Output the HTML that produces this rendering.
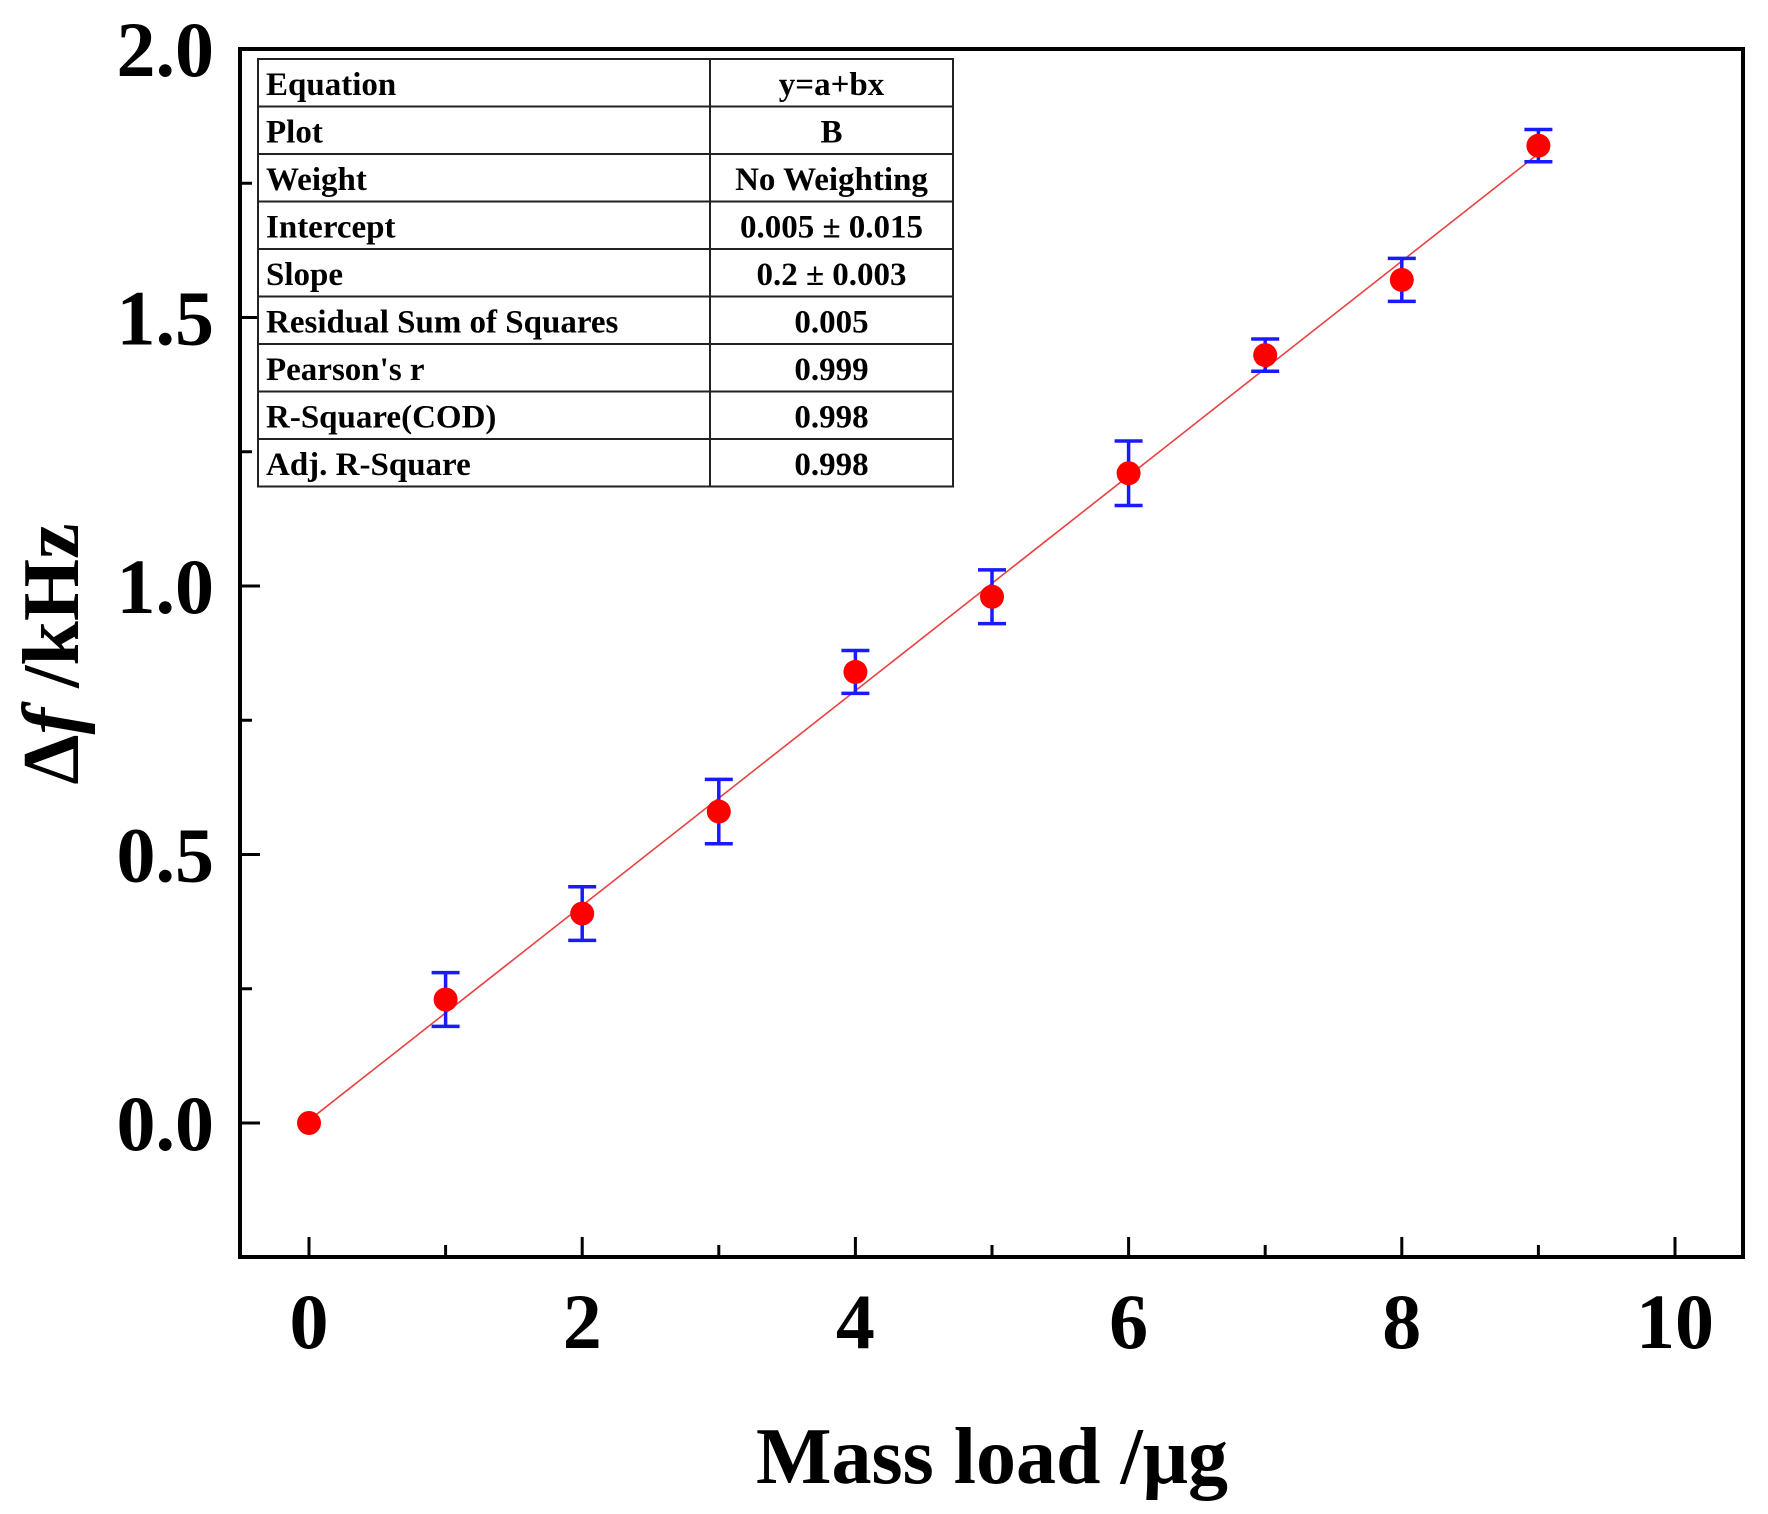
<!DOCTYPE html>
<html><head><meta charset="utf-8"><style>
html,body{margin:0;padding:0;background:#fff;}
svg{display:block;font-family:"Liberation Serif",serif;font-weight:bold;}
</style></head><body>
<svg id="c" width="1768" height="1514" viewBox="0 0 1768 1514" xmlns="http://www.w3.org/2000/svg"></svg>
<script>
const xValues=[0,1,2,3,4,5,6,7,8,9];
const yValues=[0,0.23,0.39,0.58,0.84,0.98,1.21,1.43,1.57,1.82];
const yErrors=[0,0.05,0.05,0.06,0.04,0.05,0.06,0.03,0.04,0.03];
const fitIntercept=0.005, fitSlope=0.2;
const xTicks=[0,2,4,6,8,10];
const yTicks=[0,0.5,1.0,1.5,2.0];
const tableRows=[["Equation","y=a+bx"],["Plot","B"],["Weight","No Weighting"],["Intercept","0.005 ± 0.015"],["Slope","0.2 ± 0.003"],["Residual Sum of Squares","0.005"],["Pearson's r","0.999"],["R-Square(COD)","0.998"],["Adj. R-Square","0.998"]];
const L=240,R=1743,T=49,B=1257;
const X=v=>309+v*136.6;
const Y=v=>1123-v*537;
const svg=document.getElementById('c');
const NS='http://www.w3.org/2000/svg';
function mk(t,a,p){const e=document.createElementNS(NS,t);for(const k in a)e.setAttribute(k,a[k]);(p||svg).appendChild(e);return e;}
for(let v=0;v<=10;v+=1){const big=v%2===0;const t=mk('line',{x1:X(v),x2:X(v),y1:B,y2:B-(big?20:12),stroke:'#000','stroke-width':3});

}
for(let v=-0.25;v<=2.0001;v+=0.25){const big=Math.abs(v*2-Math.round(v*2))<1e-6;const t=mk('line',{x1:L,x2:L+(big?20:12),y1:Y(v),y2:Y(v),stroke:'#000','stroke-width':3});

}
xTicks.forEach(v=>{const t=mk('text',{x:X(v),y:1348,'font-size':78,'text-anchor':'middle'});t.textContent=v;

});
yTicks.forEach(v=>{const t=mk('text',{x:214,y:Y(v)+27,'font-size':78,'text-anchor':'end'});t.textContent=v.toFixed(1);

});
const fl=mk('line',{x1:X(0),y1:Y(fitIntercept),x2:X(9),y2:Y(fitIntercept+fitSlope*9),stroke:'#e8413f','stroke-width':1.6});


xValues.forEach((x,i)=>{
 const y=yValues[i],e=yErrors[i];
 if(e>0){const g=mk('g',{stroke:'#1a1aff','stroke-width':3.5});
 
 
 mk('line',{x1:X(x),x2:X(x),y1:Y(y+e),y2:Y(y-e)},g);
 mk('line',{x1:X(x)-14,x2:X(x)+14,y1:Y(y+e),y2:Y(y+e)},g);
 mk('line',{x1:X(x)-14,x2:X(x)+14,y1:Y(y-e),y2:Y(y-e)},g);}
 const c=mk('circle',{cx:X(x),cy:Y(y),r:12,fill:'#ff0000'});
 
 
});
const fr=mk('rect',{x:L,y:T,width:R-L,height:B-T,fill:'none',stroke:'#000','stroke-width':4});


const tg=mk('g',{});


const tl=258,tr=953,tc=710,tt=59,rh=47.5;
mk('rect',{x:tl,y:tt,width:tr-tl,height:rh*9,fill:'#fff',stroke:'#222','stroke-width':2},tg);
mk('line',{x1:tc,x2:tc,y1:tt,y2:tt+rh*9,stroke:'#222','stroke-width':2},tg);
tableRows.forEach((r,i)=>{
 if(i>0)mk('line',{x1:tl,x2:tr,y1:tt+rh*i,y2:tt+rh*i,stroke:'#222','stroke-width':2},tg);
 const a=mk('text',{x:tl+8,y:tt+rh*i+36,'font-size':33},tg);a.textContent=r[0];
 
 
 const b=mk('text',{x:(tc+tr)/2,y:tt+rh*i+36,'font-size':33,'text-anchor':'middle'},tg);b.textContent=r[1];
 
 
});
const xt=mk('text',{x:992,y:1483,'font-size':80,'text-anchor':'middle'});xt.textContent='Mass load /μg';


const yt=mk('text',{x:0,y:0,'font-size':80,'text-anchor':'middle',transform:'translate(78,654) rotate(-90)'});
yt.innerHTML='Δ<tspan font-style="italic">f</tspan> /kHz';


</script>
</body></html>
